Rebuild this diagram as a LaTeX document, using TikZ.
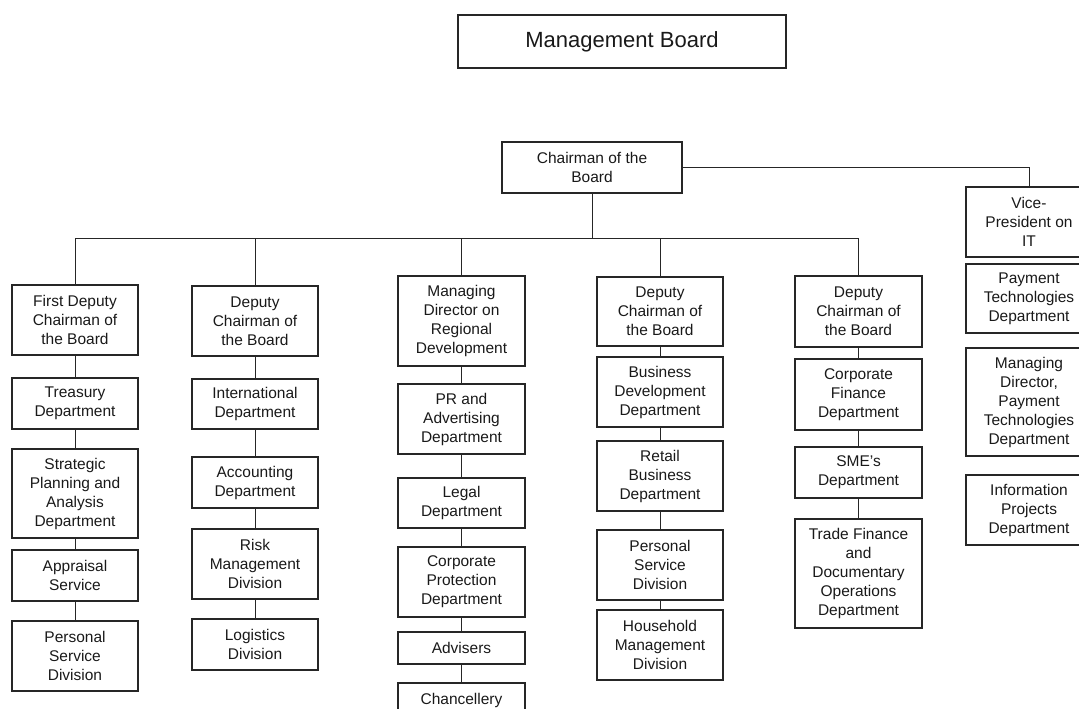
\documentclass[tikz,border=0pt]{standalone}
\usepackage{fontspec}
\setmainfont{Liberation Sans}
\begin{document}
\begin{tikzpicture}[x=1pt,y=-1pt,
  bx/.style={draw=black!85, line width=1.1pt, minimum width=126pt, inner sep=0pt,
    align=center, font=\fontsize{15.5}{19}\selectfont, text=black!90},
  ln/.style={draw=black!85, line width=1pt}]
\clip (0,0) rectangle (1079,709);
\useasboundingbox (0,0) rectangle (1079,709);

% top of the hierarchy
\node[bx, minimum width=328pt, minimum height=53pt, font=\fontsize{22}{26}\selectfont] (mb) at (622,41.5) {Management Board};
\node[bx, minimum width=180pt, minimum height=51pt] (chair) at (592,167.5) {Chairman of the\\Board};

% column 1
\node[bx, minimum height=70pt] (c1a) at (75,320) {First Deputy\\Chairman of\\the Board};
\node[bx, minimum height=51pt] (c1b) at (75,403.5) {Treasury\\Department};
\node[bx, minimum height=89pt] (c1c) at (75,493.5) {Strategic\\Planning and\\Analysis\\Department};
\node[bx, minimum height=51pt] (c1d) at (75,575.5) {Appraisal\\Service};
\node[bx, minimum height=70pt] (c1e) at (75,656) {Personal\\Service\\Division};

% column 2
\node[bx, minimum height=70pt] (c2a) at (255,321) {Deputy\\Chairman of\\the Board};
\node[bx, minimum height=50pt] (c2b) at (255,404) {International\\Department};
\node[bx, minimum height=51pt] (c2c) at (255,482.5) {Accounting\\Department};
\node[bx, minimum height=70pt] (c2d) at (255,564) {Risk\\Management\\Division};
\node[bx, minimum height=51pt] (c2e) at (255,644.5) {Logistics\\Division};

% column 3
\node[bx, minimum width=127pt, minimum height=90pt] (c3a) at (461.5,321) {Managing\\Director on\\Regional\\Development};
\node[bx, minimum width=127pt, minimum height=70pt] (c3b) at (461.5,419) {PR and\\Advertising\\Department};
\node[bx, minimum width=127pt, minimum height=50pt] (c3c) at (461.5,503) {Legal\\Department};
\node[bx, minimum width=127pt, minimum height=70pt] (c3d) at (461.5,582) {Corporate\\Protection\\Department};
\node[bx, minimum width=127pt, minimum height=32pt] (c3e) at (461.5,648) {Advisers};
\node[bx, minimum width=127pt, minimum height=34pt] (c3f) at (461.5,700) {Chancellery};

% column 4
\node[bx, minimum height=69pt] (c4a) at (660,311.5) {Deputy\\Chairman of\\the Board};
\node[bx, minimum height=70pt] (c4b) at (660,392) {Business\\Development\\Department};
\node[bx, minimum height=70pt] (c4c) at (660,476) {Retail\\Business\\Department};
\node[bx, minimum height=70pt] (c4d) at (660,565) {Personal\\Service\\Division};
\node[bx, minimum height=70pt] (c4e) at (660,645) {Household\\Management\\Division};

% column 5
\node[bx, minimum width=127pt, minimum height=71pt] (c5a) at (858.5,311.5) {Deputy\\Chairman of\\the Board};
\node[bx, minimum width=127pt, minimum height=71pt] (c5b) at (858.5,394.5) {Corporate\\Finance\\Department};
\node[bx, minimum width=127pt, minimum height=51pt] (c5c) at (858.5,472.5) {SME's\\Department};
\node[bx, minimum width=127pt, minimum height=109pt] (c5d) at (858.5,573.5) {Trade Finance\\and\\Documentary\\Operations\\Department};

% column 6
\node[bx, minimum height=70pt] (c6a) at (1029,222) {Vice-\\President on\\IT};
\node[bx, minimum height=69pt] (c6b) at (1029,298.5) {Payment\\Technologies\\Department};
\node[bx, minimum height=108pt] (c6c) at (1029,402) {Managing\\Director,\\Payment\\Technologies\\Department};
\node[bx, minimum height=70pt] (c6d) at (1029,510) {Information\\Projects\\Department};

% distribution bus
\coordinate (bus) at (75,238);
\draw[ln] (chair.south) -- (chair.south |- bus);
\draw[ln] (c1a.north) -- (c1a.north |- bus) -- (c5a.north |- bus) -- (c5a.north);
\draw[ln] (c2a.north) -- (c2a.north |- bus);
\draw[ln] (c3a.north) -- (c3a.north |- bus);
\draw[ln] (c4a.north) -- (c4a.north |- bus);
\draw[ln] (chair.east) -| (c6a.north);

% links inside each column
\draw[ln] (c1a.south) -- (c1b.north);
\draw[ln] (c1b.south) -- (c1c.north);
\draw[ln] (c1c.south) -- (c1d.north);
\draw[ln] (c1d.south) -- (c1e.north);
\draw[ln] (c2a.south) -- (c2b.north);
\draw[ln] (c2b.south) -- (c2c.north);
\draw[ln] (c2c.south) -- (c2d.north);
\draw[ln] (c2d.south) -- (c2e.north);
\draw[ln] (c3a.south) -- (c3b.north);
\draw[ln] (c3b.south) -- (c3c.north);
\draw[ln] (c3c.south) -- (c3d.north);
\draw[ln] (c3d.south) -- (c3e.north);
\draw[ln] (c3e.south) -- (c3f.north);
\draw[ln] (c4a.south) -- (c4b.north);
\draw[ln] (c4b.south) -- (c4c.north);
\draw[ln] (c4c.south) -- (c4d.north);
\draw[ln] (c4d.south) -- (c4e.north);
\draw[ln] (c5a.south) -- (c5b.north);
\draw[ln] (c5b.south) -- (c5c.north);
\draw[ln] (c5c.south) -- (c5d.north);
\end{tikzpicture}
\end{document}
